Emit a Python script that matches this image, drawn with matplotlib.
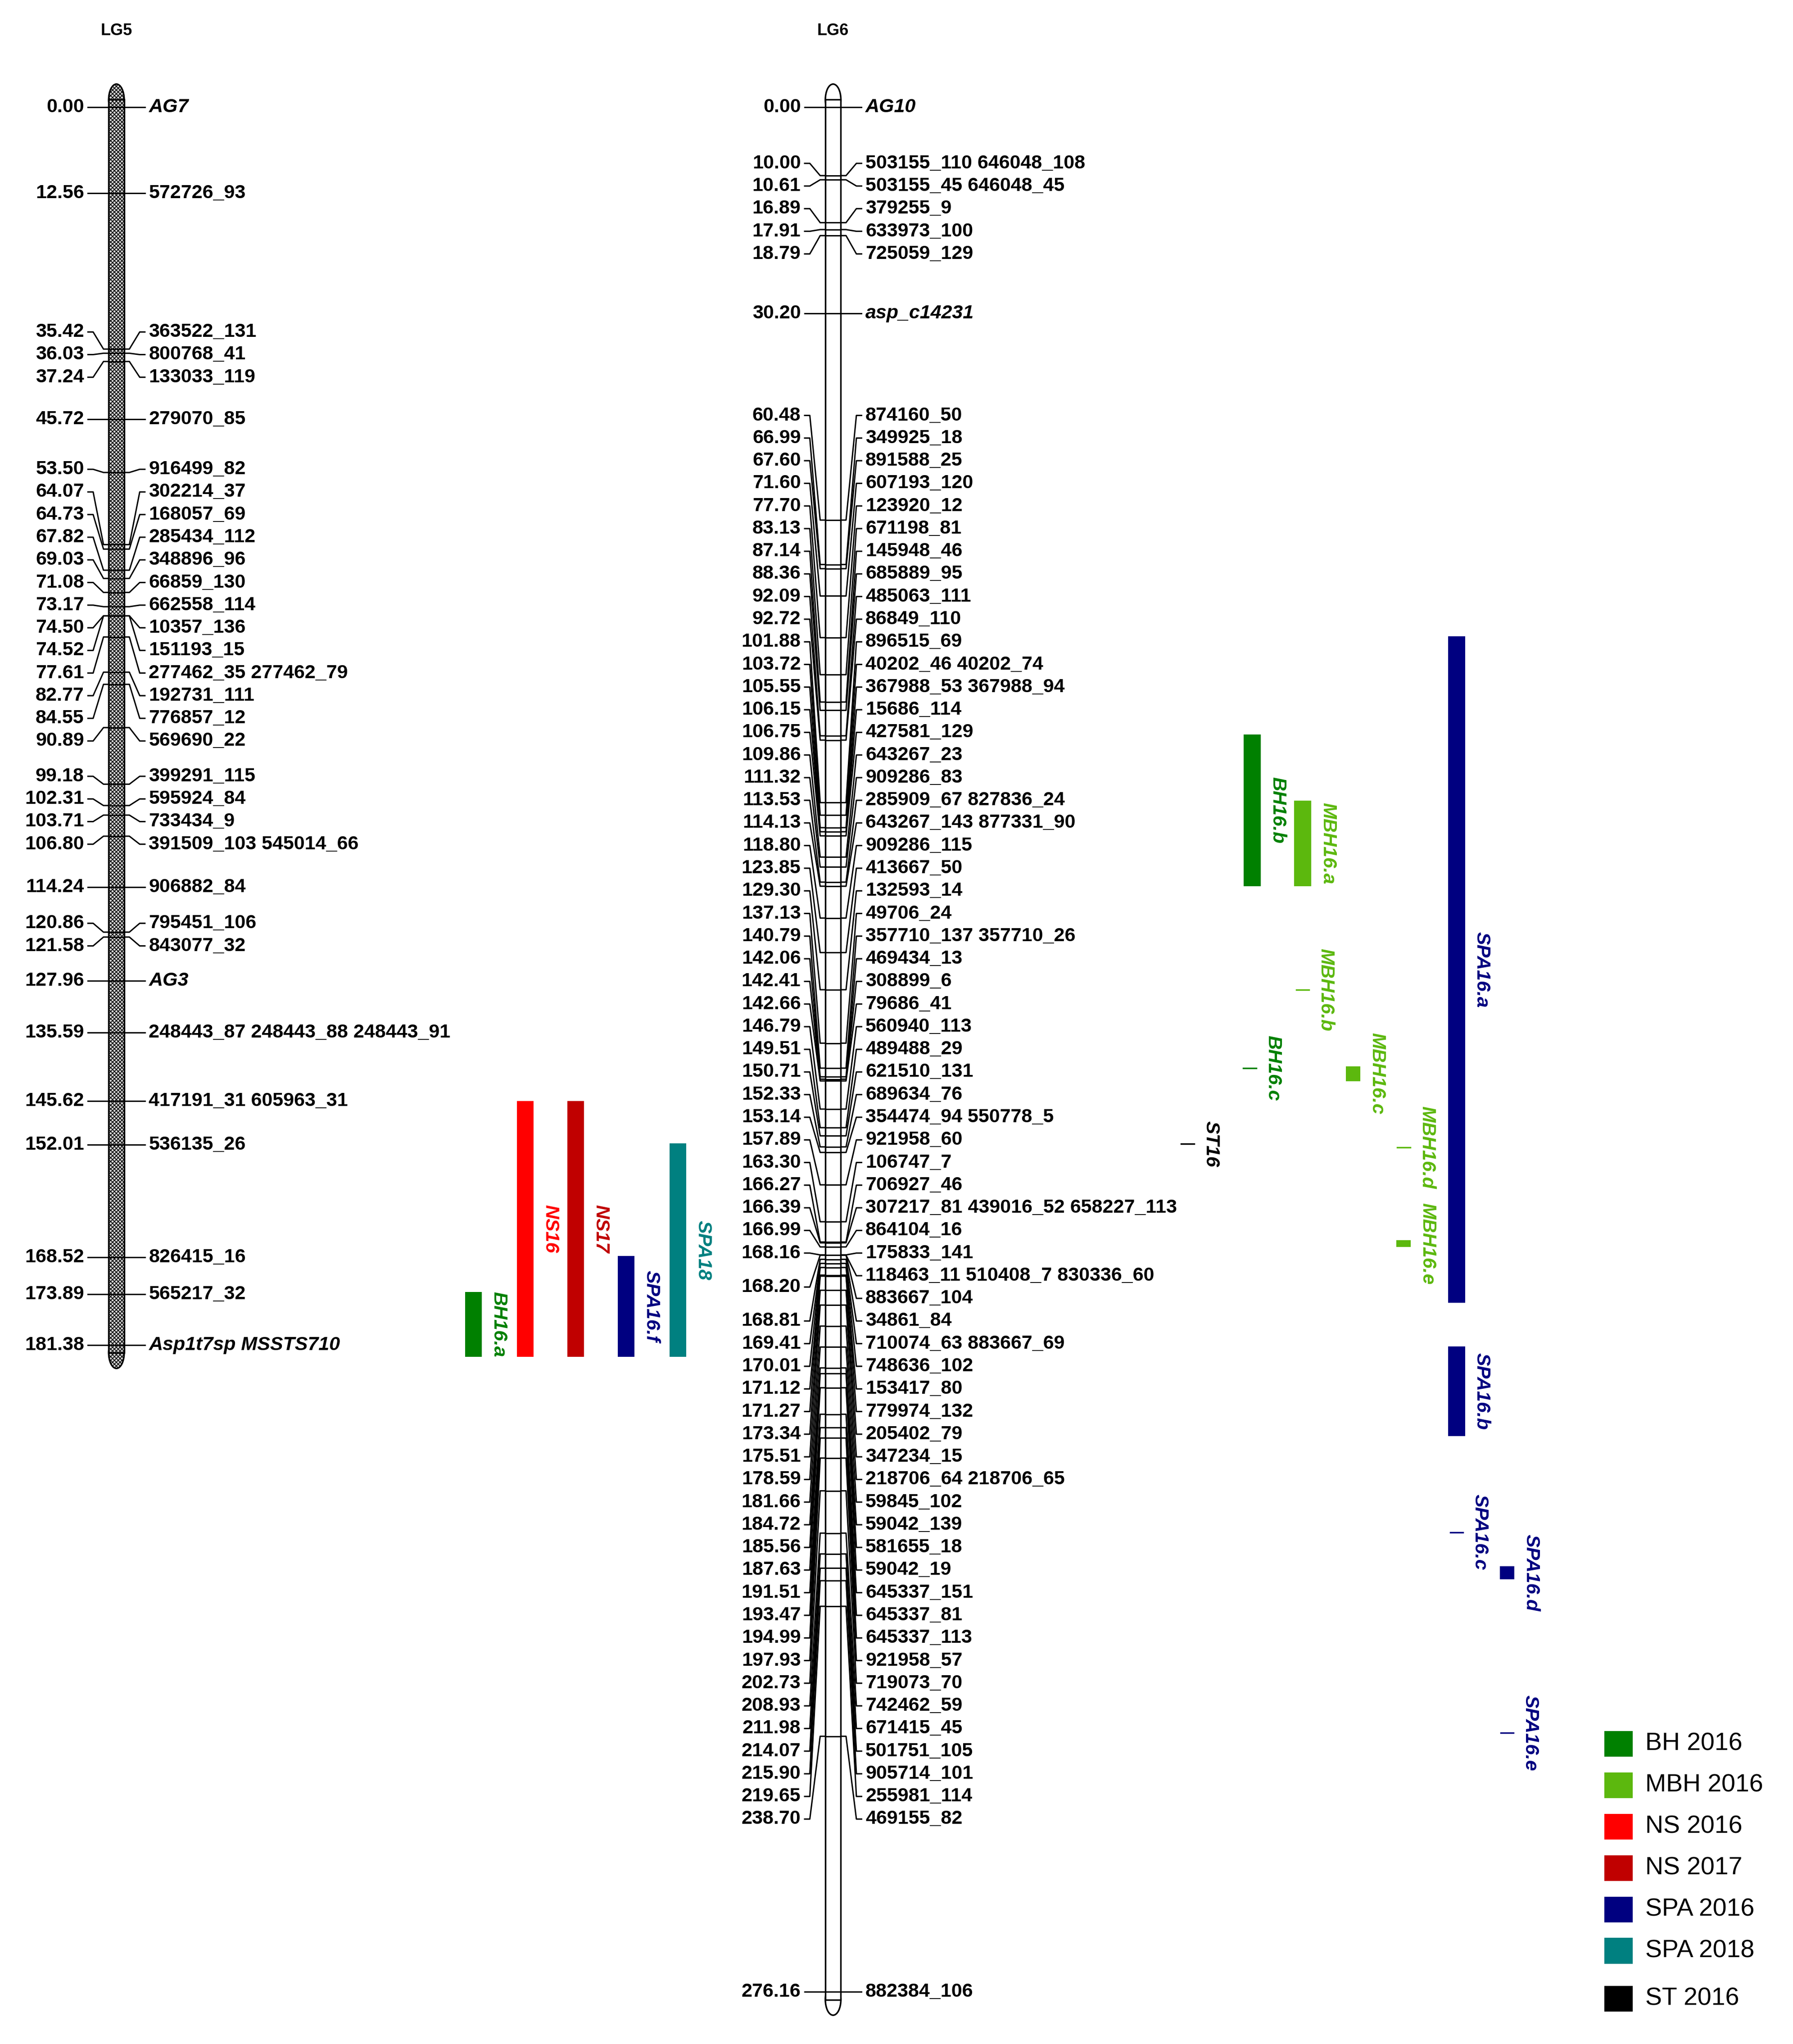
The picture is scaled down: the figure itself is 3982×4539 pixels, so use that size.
import numpy as np
import matplotlib
matplotlib.use("Agg")
import matplotlib.pyplot as plt
from matplotlib.patches import Rectangle, Ellipse

plt.rcParams['font.family'] = ['Liberation Sans', 'DejaVu Sans']
plt.rcParams['hatch.linewidth'] = 1.2

# ---- data ----
lg5_pos = [0.00, 12.56, 35.42, 36.03, 37.24, 45.72, 53.50, 64.07, 64.73, 67.82, 69.03,
           71.08, 73.17, 74.50, 74.52, 77.61, 82.77, 84.55, 90.89, 99.18, 102.31, 103.71,
           106.80, 114.24, 120.86, 121.58, 127.96, 135.59, 145.62, 152.01, 168.52, 173.89, 181.38]
lg5_names = ["AG7", "572726_93", "363522_131", "800768_41", "133033_119", "279070_85",
             "916499_82", "302214_37", "168057_69", "285434_112", "348896_96", "66859_130",
             "662558_114", "10357_136", "151193_15", "277462_35 277462_79", "192731_111",
             "776857_12", "569690_22", "399291_115", "595924_84", "733434_9",
             "391509_103 545014_66", "906882_84", "795451_106", "843077_32", "AG3",
             "248443_87 248443_88 248443_91", "417191_31 605963_31", "536135_26",
             "826415_16", "565217_32", "Asp1t7sp MSSTS710"]
lg5_italic = ["AG7", "AG3", "Asp1t7sp MSSTS710"]

lg6_pos = [0.00, 10.00, 10.61, 16.89, 17.91, 18.79, 30.20, 60.48, 66.99, 67.60, 71.60,
           77.70, 83.13, 87.14, 88.36, 92.09, 92.72, 101.88, 103.72, 105.55, 106.15, 106.75,
           109.86, 111.32, 113.53, 114.13, 118.80, 123.85, 129.30, 137.13, 140.79, 142.06,
           142.41, 142.66, 146.79, 149.51, 150.71, 152.33, 153.14, 157.89, 163.30, 166.27,
           166.39, 166.99, 168.16, 168.20, 168.20, 168.81, 169.41, 170.01, 171.12, 171.27,
           173.34, 175.51, 178.59, 181.66, 184.72, 185.56, 187.63, 191.51, 193.47, 194.99,
           197.93, 202.73, 208.93, 211.98, 214.07, 215.90, 219.65, 238.70, 276.16]
lg6_names = ["AG10", "503155_110 646048_108", "503155_45 646048_45", "379255_9",
             "633973_100", "725059_129", "asp_c14231", "874160_50", "349925_18",
             "891588_25", "607193_120", "123920_12", "671198_81", "145948_46", "685889_95",
             "485063_111", "86849_110", "896515_69", "40202_46 40202_74",
             "367988_53 367988_94", "15686_114", "427581_129", "643267_23", "909286_83",
             "285909_67 827836_24", "643267_143 877331_90", "909286_115", "413667_50",
             "132593_14", "49706_24", "357710_137 357710_26", "469434_13", "308899_6",
             "79686_41", "560940_113", "489488_29", "621510_131", "689634_76",
             "354474_94 550778_5", "921958_60", "106747_7", "706927_46",
             "307217_81 439016_52 658227_113", "864104_16", "175833_141",
             "118463_11 510408_7 830336_60", "883667_104", "34861_84",
             "710074_63 883667_69", "748636_102", "153417_80", "779974_132", "205402_79",
             "347234_15", "218706_64 218706_65", "59845_102", "59042_139", "581655_18",
             "59042_19", "645337_151", "645337_81", "645337_113", "921958_57", "719073_70",
             "742462_59", "671415_45", "501751_105", "905714_101", "255981_114",
             "469155_82", "882384_106"]
lg6_italic = ["AG10", "asp_c14231"]

# QTL: name, linkage group, start cM, end cM, trait
qtl_names = ["BH16.a", "NS16", "NS17", "SPA16.f", "SPA18",
             "ST16", "BH16.b", "MBH16.a", "MBH16.b", "BH16.c", "MBH16.c", "MBH16.d",
             "MBH16.e", "SPA16.a", "SPA16.b", "SPA16.c", "SPA16.d", "SPA16.e"]
qtl_start = [173.6, 145.6, 145.6, 168.3, 151.8,
             151.9, 91.9, 101.6, 129.3, 140.8, 140.5, 152.4,
             166.0, 77.5, 181.6, 208.8, 213.8, 238.2]
qtl_end = [183.1, 183.1, 183.1, 183.1, 183.1,
           151.9, 114.1, 114.1, 129.3, 140.8, 142.7, 152.4,
           167.0, 175.2, 194.7, 208.8, 215.7, 238.2]
qtl_trait = ["BH 2016", "NS 2016", "NS 2017", "SPA 2016", "SPA 2018",
             "ST 2016", "BH 2016", "MBH 2016", "MBH 2016", "BH 2016", "MBH 2016", "MBH 2016",
             "MBH 2016", "SPA 2016", "SPA 2016", "SPA 2016", "SPA 2016", "SPA 2016"]
qtl_x = [366, 406, 445, 484, 524, 918, 968, 1007, 1007, 966, 1046, 1085, 1085,
         1126, 1126, 1126, 1165, 1165]

legend_labels = ["BH 2016", "MBH 2016", "NS 2016", "NS 2017", "SPA 2016", "SPA 2018", "ST 2016"]
legend_colors = ["#008000", "#5cb80e", "#ff0000", "#c00000", "#000080", "#008080", "#000000"]
trait_color = dict(zip(legend_labels, legend_colors))

# ---- layout ----
PX = 5.275           # display px per cM
GAP = 17.5 / PX      # label spacing in cM
FS = 31


def spread(pos, gap):
    pos = np.asarray(pos, float)
    clusters = [[i, i, pos[i]] for i in range(len(pos))]
    changed = True
    while changed:
        changed = False
        out = [clusters[0]]
        for c in clusters[1:]:
            p = out[-1]
            n = p[1] - p[0] + 1
            if c[2] < p[2] + n * gap - 1e-9:
                s, e = p[0], c[1]
                top = np.mean([pos[k] - (k - s) * gap for k in range(s, e + 1)])
                out[-1] = [s, e, top]
                changed = True
            else:
                out.append(c)
        clusters = out
    lab = np.zeros(len(pos))
    for s, e, top in clusters:
        for k in range(s, e + 1):
            lab[k] = top + (k - s) * gap
    return lab


fig = plt.figure(figsize=(39.82, 45.39), dpi=100)
ax = fig.add_axes([0, 0, 1, 1])
ax.set_xlim(0, 1386)
ax.set_ylim((1580 - 83) / PX, -83 / PX)
ax.axis("off")


def draw_lg(cx, pos, names, italics, length, title, hatch):
    w = 12
    l, r = cx - w / 2, cx + w / 2
    cap = w / PX
    top, bot = -cap / 2, length + cap / 2
    fc = "#d9d9d9" if hatch else "white"
    ax.add_patch(Rectangle((l, top), w, bot - top, facecolor=fc, edgecolor="black",
                           hatch="xxxx" if hatch else None, lw=2.5, zorder=2))
    for yy in (top, bot):
        ax.add_patch(Ellipse((cx, yy), w, cap * 2, facecolor=fc, edgecolor="black",
                             hatch="xxxx" if hatch else None, lw=2.5, zorder=1))
    ax.add_patch(Rectangle((l + 1, top), w - 2, bot - top, facecolor="none",
                           edgecolor="none", zorder=3))
    ax.text(cx, -59 / PX, title, ha="center", va="center", fontsize=26, fontweight="bold")

    lab = spread(pos, GAP)
    upos = sorted(set(pos))
    for p in upos:
        idx = [k for k in range(len(pos)) if pos[k] == p]
        ylab = np.mean(lab[idx])
        ax.plot([l - 16, l - 12, l - 4, l], [ylab, ylab, p, p], color="black", lw=2.2, zorder=4)
        ax.plot([l, r], [p, p], color="black", lw=2.2, zorder=4)
        ax.text(l - 19, ylab, f"{p:.2f}", ha="right", va="center", fontsize=FS,
                fontweight="bold")
    for k, (p, nm) in enumerate(zip(pos, names)):
        ax.plot([r, r + 4, r + 12, r + 16], [p, p, lab[k], lab[k]], color="black", lw=2.2, zorder=4)
        ax.text(r + 19, lab[k], nm, ha="left", va="center", fontsize=FS, fontweight="bold",
                style="italic" if nm in italics else "normal")


draw_lg(90, lg5_pos, lg5_names, lg5_italic, 181.38, "LG5", True)
draw_lg(644, lg6_pos, lg6_names, lg6_italic, 276.16, "LG6", False)

# QTL bars
for nm, s, e, tr, x in zip(qtl_names, qtl_start, qtl_end, qtl_trait, qtl_x):
    col = trait_color[tr]
    if e - s < 0.01:
        ax.plot([x - 5, x + 5], [s, s], color=col, lw=2.5)
        bw = 10
    else:
        bw = 13 if e - s > 5 else 11
        ax.add_patch(Rectangle((x - bw / 2, s), bw, e - s, facecolor=col, edgecolor="none"))
    ax.text(x + bw / 2 + 6, (s + e) / 2, nm, rotation=-90, ha="left", va="center",
            fontsize=FS, fontweight="bold", style="italic", color=col)

# legend
for i, (lbl, col) in enumerate(zip(legend_labels, legend_colors)):
    yy = (1348 + 32 * i + (5 if i == 6 else 0) - 83) / PX
    ax.add_patch(Rectangle((1240, yy - 10 / PX), 22, 20 / PX, facecolor=col, edgecolor="none"))
    ax.text(1272, yy, lbl, ha="left", va="center", fontsize=40)

fig.savefig("out.png", dpi=100)
